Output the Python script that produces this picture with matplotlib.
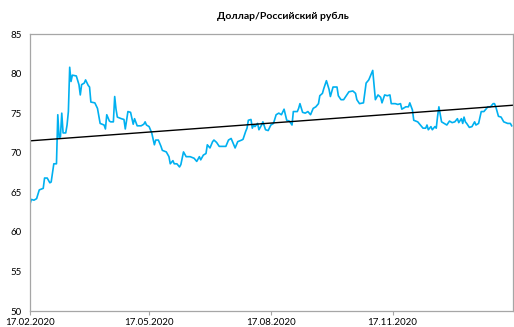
import numpy as np
import pandas as pd
import matplotlib
matplotlib.use("Agg")
import matplotlib.pyplot as plt
import matplotlib.dates as mdates

plt.rcParams['font.family'] = ['Lato', 'DejaVu Sans']

# курс доллара к рублю, 17.02.2020 - 15.02.2021
dates = [
    '2020-02-17', '2020-02-18', '2020-02-20', '2020-02-22', '2020-02-24', '2020-02-27', '2020-02-28',
    '2020-03-01', '2020-03-03', '2020-03-04', '2020-03-06', '2020-03-08', '2020-03-09', '2020-03-10',
    '2020-03-11', '2020-03-12', '2020-03-13', '2020-03-15', '2020-03-16', '2020-03-17', '2020-03-18',
    '2020-03-19', '2020-03-20', '2020-03-23', '2020-03-25', '2020-03-26', '2020-03-27', '2020-03-29',
    '2020-03-30', '2020-04-01', '2020-04-02', '2020-04-03', '2020-04-06', '2020-04-08', '2020-04-10',
    '2020-04-13', '2020-04-14', '2020-04-15', '2020-04-17', '2020-04-18', '2020-04-20', '2020-04-21',
    '2020-04-22', '2020-04-23', '2020-04-26', '2020-04-28', '2020-04-29', '2020-05-01', '2020-05-03',
    '2020-05-05', '2020-05-06', '2020-05-08', '2020-05-11', '2020-05-13', '2020-05-14', '2020-05-15',
    '2020-05-17', '2020-05-19', '2020-05-21', '2020-05-22', '2020-05-24', '2020-05-26', '2020-05-27',
    '2020-05-30', '2020-06-01', '2020-06-02', '2020-06-04', '2020-06-05', '2020-06-07', '2020-06-09',
    '2020-06-10', '2020-06-12', '2020-06-14', '2020-06-17', '2020-06-20', '2020-06-22', '2020-06-24',
    '2020-06-25', '2020-06-27', '2020-06-29', '2020-06-30', '2020-07-02', '2020-07-04', '2020-07-05',
    '2020-07-07', '2020-07-09', '2020-07-11', '2020-07-14', '2020-07-16', '2020-07-18', '2020-07-19',
    '2020-07-21', '2020-07-23', '2020-07-26', '2020-07-27', '2020-07-29', '2020-07-30', '2020-07-31',
    '2020-08-02', '2020-08-03', '2020-08-04', '2020-08-05', '2020-08-07', '2020-08-08', '2020-08-10',
    '2020-08-11', '2020-08-13', '2020-08-15', '2020-08-17', '2020-08-19', '2020-08-21', '2020-08-23',
    '2020-08-25', '2020-08-27', '2020-08-29', '2020-08-31', '2020-09-02', '2020-09-03', '2020-09-06',
    '2020-09-07', '2020-09-08', '2020-09-10', '2020-09-12', '2020-09-14', '2020-09-16', '2020-09-18',
    '2020-09-20', '2020-09-22', '2020-09-23', '2020-09-25', '2020-09-26', '2020-09-28', '2020-09-30',
    '2020-10-01', '2020-10-03', '2020-10-06', '2020-10-07', '2020-10-09', '2020-10-11', '2020-10-13',
    '2020-10-15', '2020-10-18', '2020-10-20', '2020-10-21', '2020-10-23', '2020-10-26', '2020-10-28',
    '2020-10-30', '2020-11-01', '2020-11-02', '2020-11-03', '2020-11-04', '2020-11-06', '2020-11-08',
    '2020-11-09', '2020-11-11', '2020-11-13', '2020-11-15', '2020-11-16', '2020-11-19', '2020-11-21',
    '2020-11-23', '2020-11-24', '2020-11-27', '2020-11-29', '2020-11-30', '2020-12-02', '2020-12-03',
    '2020-12-06', '2020-12-08', '2020-12-10', '2020-12-12', '2020-12-13', '2020-12-14', '2020-12-16',
    '2020-12-17', '2020-12-19', '2020-12-20', '2020-12-21', '2020-12-22', '2020-12-24', '2020-12-28',
    '2020-12-30', '2021-01-01', '2021-01-03', '2021-01-05', '2021-01-06', '2021-01-08', '2021-01-09',
    '2021-01-10', '2021-01-11', '2021-01-12', '2021-01-14', '2021-01-16', '2021-01-18', '2021-01-19',
    '2021-01-21', '2021-01-23', '2021-01-25', '2021-01-26', '2021-01-28', '2021-01-30', '2021-02-01',
    '2021-02-02', '2021-02-03', '2021-02-05', '2021-02-07', '2021-02-09', '2021-02-12', '2021-02-14',
    '2021-02-15',
]
usd_rub = [
    63.5, 64.1, 64.0, 64.2, 65.3, 65.5, 66.8,
    66.8, 66.2, 66.3, 68.6, 68.6, 74.8, 71.9,
    72.0, 75.0, 72.5, 72.5, 73.5, 75.2, 80.8,
    79.0, 79.8, 79.7, 78.6, 77.3, 78.6, 78.8,
    79.2, 78.5, 78.3, 76.4, 76.3, 75.6, 73.7,
    73.5, 73.0, 74.8, 74.0, 73.9, 73.9, 77.1,
    75.5, 74.5, 74.3, 74.2, 73.0, 75.2, 75.1,
    73.6, 74.3, 73.4, 73.4, 73.6, 73.9, 73.5,
    73.3, 72.5, 71.0, 71.6, 71.6, 70.8, 70.3,
    70.1, 69.5, 68.6, 69.0, 68.6, 68.6, 68.2,
    68.5, 70.1, 69.5, 69.5, 69.3, 68.9, 69.5,
    69.1, 69.7, 69.9, 71.0, 70.6, 71.4, 71.6,
    71.3, 70.8, 70.8, 70.8, 71.6, 71.8, 71.4,
    70.6, 71.4, 71.6, 71.7, 72.7, 73.1, 74.1,
    74.2, 73.1, 73.5, 73.3, 73.7, 72.9, 73.5,
    73.9, 72.9, 72.8, 73.5, 73.7, 74.8, 75.0,
    74.8, 75.5, 74.1, 74.0, 73.5, 75.2, 75.2,
    75.6, 76.2, 75.1, 75.0, 75.2, 74.8, 75.6,
    75.8, 76.2, 77.2, 77.5, 78.1, 79.1, 78.0,
    77.1, 78.3, 78.3, 77.2, 76.7, 76.7, 77.2,
    77.7, 77.8, 77.5, 76.7, 76.2, 76.3, 78.8,
    79.2, 80.0, 80.4, 78.6, 76.7, 77.3, 77.0,
    76.3, 77.3, 77.2, 77.3, 76.2, 76.2, 76.1,
    76.2, 75.5, 75.8, 75.8, 76.3, 75.4, 74.1,
    73.9, 73.5, 73.1, 73.1, 73.5, 72.9, 73.3,
    72.9, 73.3, 73.1, 74.6, 75.8, 73.9, 73.5,
    74.0, 73.8, 73.9, 74.3, 73.8, 74.3, 73.7,
    74.5, 73.9, 73.7, 73.2, 73.3, 73.9, 73.5,
    73.7, 75.2, 75.2, 75.4, 75.8, 75.8, 76.2,
    76.2, 75.8, 74.6, 74.5, 73.9, 73.7, 73.7,
    73.4,
]
# линия тренда: значения на краях периода
trend_dates = ['2020-02-17', '2021-02-16']
trend_values = [71.5, 76.0]
tick_dates = ['2020-02-17', '2020-05-17', '2020-08-17', '2020-11-17']

x = pd.to_datetime(dates)
y = np.array(usd_rub)
tx = pd.to_datetime(trend_dates)

fig = plt.figure(figsize=(5.14, 3.27), dpi=100)
ax = fig.add_axes([30 / 514, 16 / 327, 483 / 514, 277 / 327])

ax.plot(x, y, color='#00b0f0', lw=1.2)
ax.plot(tx, trend_values, color='black', lw=1.0)

ax.set_xlim(tx[0], tx[1])
ax.set_ylim(50, 85)
ax.set_yticks(range(50, 90, 5))
ax.set_xticks(pd.to_datetime(tick_dates))
ax.xaxis.set_major_formatter(mdates.DateFormatter('%d.%m.%Y'))

for s in ax.spines.values():
    s.set_color('#a6a6a6')
    s.set_linewidth(0.9)
ax.tick_params(axis='x', length=3, color='#a6a6a6', labelsize=7, pad=2)
ax.tick_params(axis='y', length=0, labelsize=7, pad=6)

fig.text(283 / 514, 1 - 16 / 327, 'Доллар/Российский рубль', ha='center', va='center',
         fontsize=7.5, fontweight='bold')

fig.savefig('out.png', dpi=100)
